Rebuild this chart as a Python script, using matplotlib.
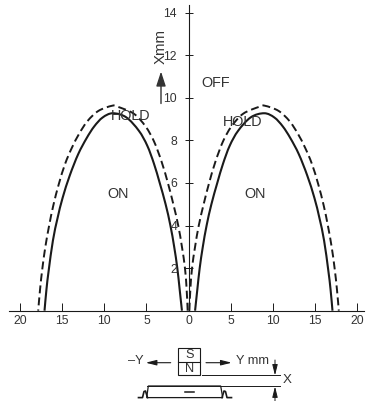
import matplotlib
matplotlib.use("Agg")
import matplotlib.pyplot as plt
from matplotlib.patches import Rectangle, Polygon, PathPatch
from matplotlib.path import Path

plt.rcParams['font.family'] = ['Liberation Sans', 'DejaVu Sans']

x_ticks = [-20, -15, -10, -5, 0, 5, 10, 15, 20]
x_tick_labels = ['20', '15', '10', '5', '0', '5', '10', '15', '20']
y_ticks = [2, 4, 6, 8, 10, 12, 14]
y_tick_labels = ['2', '4', '6', '8', '10', '12', '14']

solid_y_mm = [0.78, 1.05, 1.33, 1.7, 2.15, 2.72, 3.42, 4.1, 4.9, 5.9, 7.4, 9.0,
              10.2, 11.2, 12.1, 13.1, 14.1, 14.95, 15.55, 16.1, 16.6, 16.87, 17.1]
solid_x_mm = [0, 1, 2, 3, 4, 5, 6, 6.9, 7.75, 8.45, 9.08, 9.27,
              9.07, 8.65, 8.1, 7.35, 6.35, 5.3, 4.35, 3.3, 1.9, 1, 0]
dashed_y_mm = [0.1, 0.22, 0.42, 0.78, 1.22, 1.8, 2.45, 3.2, 4.1, 5.1, 6.5, 8.45, 9.1,
               10.7, 12.0, 13.0, 13.85, 14.65, 15.4, 16.05, 16.55, 17.0, 17.35, 17.63, 17.85]
dashed_x_mm = [0, 1, 2, 3, 4, 5, 6, 7, 7.95, 8.65, 9.25, 9.58, 9.62,
               9.38, 8.9, 8.3, 7.65, 6.9, 5.95, 4.95, 4, 3, 2, 1, 0]

TXT = '#333333'
LINE = '#1a1a1a'
FS = 8.8
FL = 10.4

W, H = 371, 401
fig = plt.figure(figsize=(W / 100, H / 100), dpi=100)
ax = fig.add_axes([0, 0, 1, 1])
x0, sx = 188.5, 8.42
y0, sy = 310.7, 21.3
ax.set_xlim((0 - x0) / sx, (W - x0) / sx)
ax.set_ylim((y0 - H) / sy, y0 / sy)
ax.patch.set_visible(False)

for s in ['top', 'right']:
    ax.spines[s].set_visible(False)
ax.spines['bottom'].set_position(('data', 0))
ax.spines['left'].set_position(('data', 0))
ax.spines['bottom'].set_bounds((9 - x0) / sx, (364 - x0) / sx)
ax.spines['left'].set_bounds(0, (y0 - 5) / sy)
for s in ['bottom', 'left']:
    ax.spines[s].set_linewidth(0.8)
    ax.spines[s].set_color(LINE)

ax.set_xticks(x_ticks, x_tick_labels)
ax.set_yticks(y_ticks, y_tick_labels)
ax.tick_params(axis='x', direction='in', length=5.6, width=0.7, pad=2.8,
               labelsize=FS, labelcolor=TXT, color=LINE)
ax.tick_params(axis='y', direction='inout', length=6, width=0.7, pad=5.2,
               labelsize=FS, labelcolor=TXT, color=LINE)


def smooth_path(xs, ys):
    """Catmull-Rom curve drawn as Bezier segments through the read points."""
    pts = list(zip(xs, ys))
    verts = [pts[0]]
    codes = [Path.MOVETO]
    for i in range(len(pts) - 1):
        p0 = pts[max(i - 1, 0)]
        p1 = pts[i]
        p2 = pts[i + 1]
        p3 = pts[min(i + 2, len(pts) - 1)]
        c1 = (p1[0] + (p2[0] - p0[0]) / 6, p1[1] + (p2[1] - p0[1]) / 6)
        c2 = (p2[0] - (p3[0] - p1[0]) / 6, p2[1] - (p3[1] - p1[1]) / 6)
        verts += [c1, c2, p2]
        codes += [Path.CURVE4] * 3
    return Path(verts, codes)


for sign in (1, -1):
    ax.add_patch(PathPatch(smooth_path([sign * v for v in solid_y_mm], solid_x_mm),
                           fill=False, ec=LINE, lw=1.5, joinstyle='round', clip_on=False))
    ax.add_patch(PathPatch(smooth_path([sign * v for v in dashed_y_mm], dashed_x_mm),
                           fill=False, ec=LINE, lw=1.4, linestyle=(0, (4.1, 2.1)),
                           joinstyle='round'))


def label(xp, yp, s, **kw):
    ax.text((xp - x0) / sx, (y0 - yp) / sy, s, color=TXT, fontsize=kw.pop('fontsize', FL),
            ha='center', va='center', **kw)


label(216, 83, 'OFF')
label(131, 116, 'HOLD')
label(243, 122, 'HOLD')
label(118, 194, 'ON')
label(255, 194, 'ON')
label(160.5, 46, 'Xmm', rotation=90, fontsize=10.8)

# Pixel-space overlay for the arrow and the magnet/reed-switch sketch
ov = fig.add_axes([0, 0, 1, 1])
ov.set_xlim(0, W)
ov.set_ylim(H, 0)
ov.axis('off')


def arrow(p_from, p_to, lw=0.8, ms=4, hw=0.2, hl=0.8, color=LINE):
    ov.annotate('', xy=p_to, xytext=p_from,
                arrowprops=dict(arrowstyle=f'-|>,head_width={hw},head_length={hl}', lw=lw,
                                color=color, shrinkA=0, shrinkB=0, mutation_scale=ms * 2))


arrow((161, 103.5), (161, 71.5), lw=1.0, ms=8, color='#333333', hw=0.18, hl=0.55)

ov.add_patch(Rectangle((178.3, 347.5), 21.7, 27.7, fill=False, ec=LINE, lw=0.8))
ov.plot([178.3, 200], [361.7, 361.7], color=LINE, lw=0.8)
ov.text(189.3, 355, 'S', ha='center', va='center', fontsize=9.2, color=TXT)
ov.text(189.3, 369.3, 'N', ha='center', va='center', fontsize=9.2, color=TXT)
ov.text(135.5, 361, '\u2013Y', ha='center', va='center', fontsize=9.2, color=TXT)
ov.text(253, 361, 'Y mm', ha='center', va='center', fontsize=9.2, color=TXT)
arrow((170.7, 362.7), (145.7, 362.7))
arrow((206, 362.7), (231.7, 362.7))

# Dimension lines
ov.plot([201.7, 280], [375.4, 375.4], color=LINE, lw=0.7)
ov.plot([147, 280], [386, 386], color=LINE, lw=0.7)
arrow((275, 360), (275, 375.4), lw=0.7)
arrow((275, 401), (275, 386.5), lw=0.7)
ov.text(287, 380, 'X', ha='center', va='center', fontsize=9.6, color=TXT)

# Reed switch body
ov.add_patch(Polygon([(148.3, 386), (220.7, 386), (222.7, 397.6), (146.7, 397.6)],
                     closed=True, fill=False, ec=LINE, lw=0.9))
ov.plot([184.5, 193.5], [392, 392], color=LINE, lw=1.1)
ov.plot([138.5, 142.5, 144, 145.5, 147.5], [397.6, 397.6, 391.5, 391, 397.6], color=LINE, lw=1.2)
ov.plot([222, 224, 225.5, 227, 231.5], [397.6, 391, 391.5, 397.6, 397.6], color=LINE, lw=1.2)

fig.savefig('out.png', dpi=100)
